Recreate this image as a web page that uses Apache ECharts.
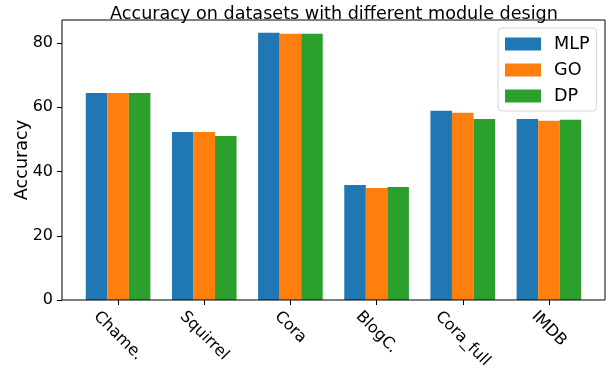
<!DOCTYPE html>
<html>
<head>
<meta charset="utf-8">
<script src="https://cdn.jsdelivr.net/npm/echarts@6/dist/echarts.min.js"></script>
<style>html,body{margin:0;padding:0;background:#fff}#c{width:613px;height:374px}</style>
</head>
<body>
<div id="c"></div>
<script>
const categories = ['Chame.', 'Squirrel', 'Cora', 'BlogC.', 'Cora_full', 'IMDB'];
const seriesNames = ['MLP', 'GO', 'DP'];
const mlp = [64.5, 52.3, 83.2, 35.8, 58.9, 56.4];
const go = [64.5, 52.3, 82.9, 34.9, 58.3, 55.8];
const dp = [64.5, 51.1, 82.9, 35.2, 56.4, 56.1];
const yTicks = [0, 20, 40, 60, 80];
const colors = ['#1f77b4', '#ff7f0e', '#2ca02c'];

const FONT = '"DejaVu Sans", sans-serif';
const cv = document.createElement('canvas').getContext('2d');
cv.font = '16px "DejaVu Sans"';
const rich = {};
categories.forEach((c, i) => {
  const w = cv.measureText(c).width;
  rich['c' + i] = { fontFamily: FONT, fontSize: 16, color: '#000', padding: [w / 2, 0, 0, w / 2] };
});

const chart = echarts.init(document.getElementById('c'), null, { renderer: 'canvas' });
chart.setOption({
  animation: false,
  backgroundColor: '#fff',
  title: {
    text: 'Accuracy on datasets with different module design',
    left: 329, top: 0, textAlign: 'center',
    textStyle: { fontFamily: FONT, fontSize: 17.6, fontWeight: 'normal', color: '#000' }
  },
  legend: {
    data: seriesNames,
    orient: 'vertical',
    left: 498, top: 28,
    itemWidth: 36, itemHeight: 13, itemGap: 8,
    icon: 'rect',
    padding: [7, 7, 6, 7],
    borderColor: '#d6d6d6', borderWidth: 1, borderRadius: 4,
    backgroundColor: 'rgba(255,255,255,0.8)',
    textStyle: { fontFamily: FONT, fontSize: 17.6, color: '#000', padding: [0, 0, 0, 8] }
  },
  grid: [
    { left: 62, right: 8, top: 20, bottom: 74, show: true, borderColor: '#000', borderWidth: 1, backgroundColor: 'transparent', z: 5 },
    { left: 75, right: 21, top: 20, bottom: 74 }
  ],
  xAxis: [{
    gridIndex: 1, type: 'category', data: categories,
    axisLine: { show: false },
    axisTick: { show: true, alignWithLabel: true, length: 5, lineStyle: { color: '#000' } },
    axisLabel: {
      interval: 0, rotate: -45, margin: 14, align: 'center', verticalAlign: 'middle',
      formatter: (v) => '{c' + categories.indexOf(v) + '|' + v + '}',
      rich: rich
    }
  }],
  yAxis: [{
    gridIndex: 1, type: 'value', min: 0, max: 87.2, interval: 20, offset: 13,
    name: 'Accuracy', nameLocation: 'middle', nameGap: 31, nameMoveOverlap: false,
    nameTextStyle: { fontFamily: FONT, fontSize: 17.6, color: '#000' },
    axisLine: { show: false },
    splitLine: { show: false },
    axisTick: { show: true, length: 5, customValues: yTicks, lineStyle: { color: '#000' } },
    axisLabel: { customValues: yTicks, margin: 9, fontFamily: FONT, fontSize: 16, color: '#000' }
  }],
  series: [mlp, go, dp].map((d, i) => ({
    name: seriesNames[i], type: 'bar', data: d,
    xAxisIndex: 0, yAxisIndex: 0,
    barGap: '0%', barCategoryGap: '25%',
    itemStyle: { color: colors[i] }
  }))
});
</script>
</body>
</html>
